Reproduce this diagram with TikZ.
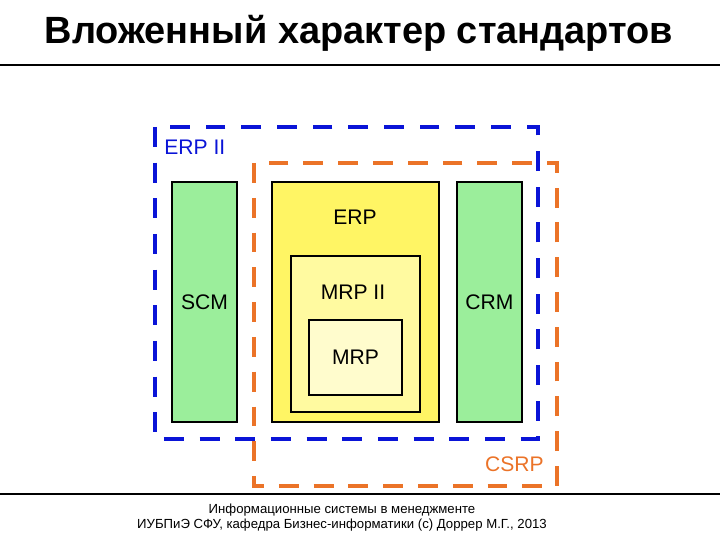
\documentclass[tikz,border=0pt]{standalone}
\usepackage{fontspec}
\setmainfont{Liberation Sans}
\usepackage{tikz}

\definecolor{erpblue}{RGB}{10,20,215}
\definecolor{csrporange}{RGB}{235,115,40}
\definecolor{boxgreen}{RGB}{155,238,155}
\definecolor{erpyellow}{RGB}{255,245,100}
\definecolor{mrpiiyellow}{RGB}{255,250,160}
\definecolor{mrpyellow}{RGB}{255,252,205}

\tikzset{
  modul/.style={draw=black, line width=1.1pt, inner sep=0pt},
  etiket/.style={font=\fontsize{12}{14}\selectfont, inner sep=0pt},
  rammeblaa/.style={draw=erpblue, line width=2.8pt, dash pattern=on 11.3pt off 9pt},
  rammeorange/.style={draw=csrporange, line width=2.3pt, dash pattern=on 11.3pt off 8.5pt}
}

\begin{document}
\begin{tikzpicture}[x=0.02cm,y=-0.02cm]
\useasboundingbox (0,0) rectangle (720,540);
%overskrift
\node [font=\bfseries\fontsize{21.6}{26}\selectfont] (titel) at (359,33) {Вложенный характер стандартов};
\draw [line width=1.7pt] (0,65)--(720,65);
\draw [line width=1.4pt] (0,494)--(720,494);
\node [font=\fontsize{7.5}{9}\selectfont, align=center] (fod) at (342,517.5)
  {Информационные системы в менеджменте\\ИУБПиЭ СФУ, кафедра Бизнес-информатики (с) Доррер М.Г., 2013};
%moduler
\node [modul, fill=boxgreen, minimum width=65*0.02cm, minimum height=240*0.02cm] (scm) at (204.5,302) {};
\node [modul, fill=boxgreen, minimum width=65*0.02cm, minimum height=240*0.02cm] (crm) at (489.5,302) {};
\node [modul, fill=erpyellow, minimum width=167*0.02cm, minimum height=240*0.02cm] (erp) at (355.5,302) {};
\node [modul, fill=mrpiiyellow, minimum width=129*0.02cm, minimum height=156*0.02cm] (mrpii) at (355.5,334) {};
\node [modul, fill=mrpyellow, minimum width=93*0.02cm, minimum height=75*0.02cm] (mrp) at (355.5,357.5) {};
\node [etiket] (scmtxt) at (scm) {SCM};
\node [etiket] (crmtxt) at (crm) {CRM};
\node [etiket] (erptxt) at (355,217) {ERP};
\node [etiket] (mrpiitxt) at (353,292) {MRP II};
\node [etiket] (mrptxt) at (mrp) {MRP};
%rammer
\draw [rammeblaa] (155,127) rectangle (538,439);
\draw [rammeorange] (254,163) rectangle (557,486);
\node [etiket, text=erpblue, anchor=west] (erpii) at (164,147) {ERP II};
\node [etiket, text=csrporange, anchor=east] (csrp) at (544,464) {CSRP};
\end{tikzpicture}
\end{document}
